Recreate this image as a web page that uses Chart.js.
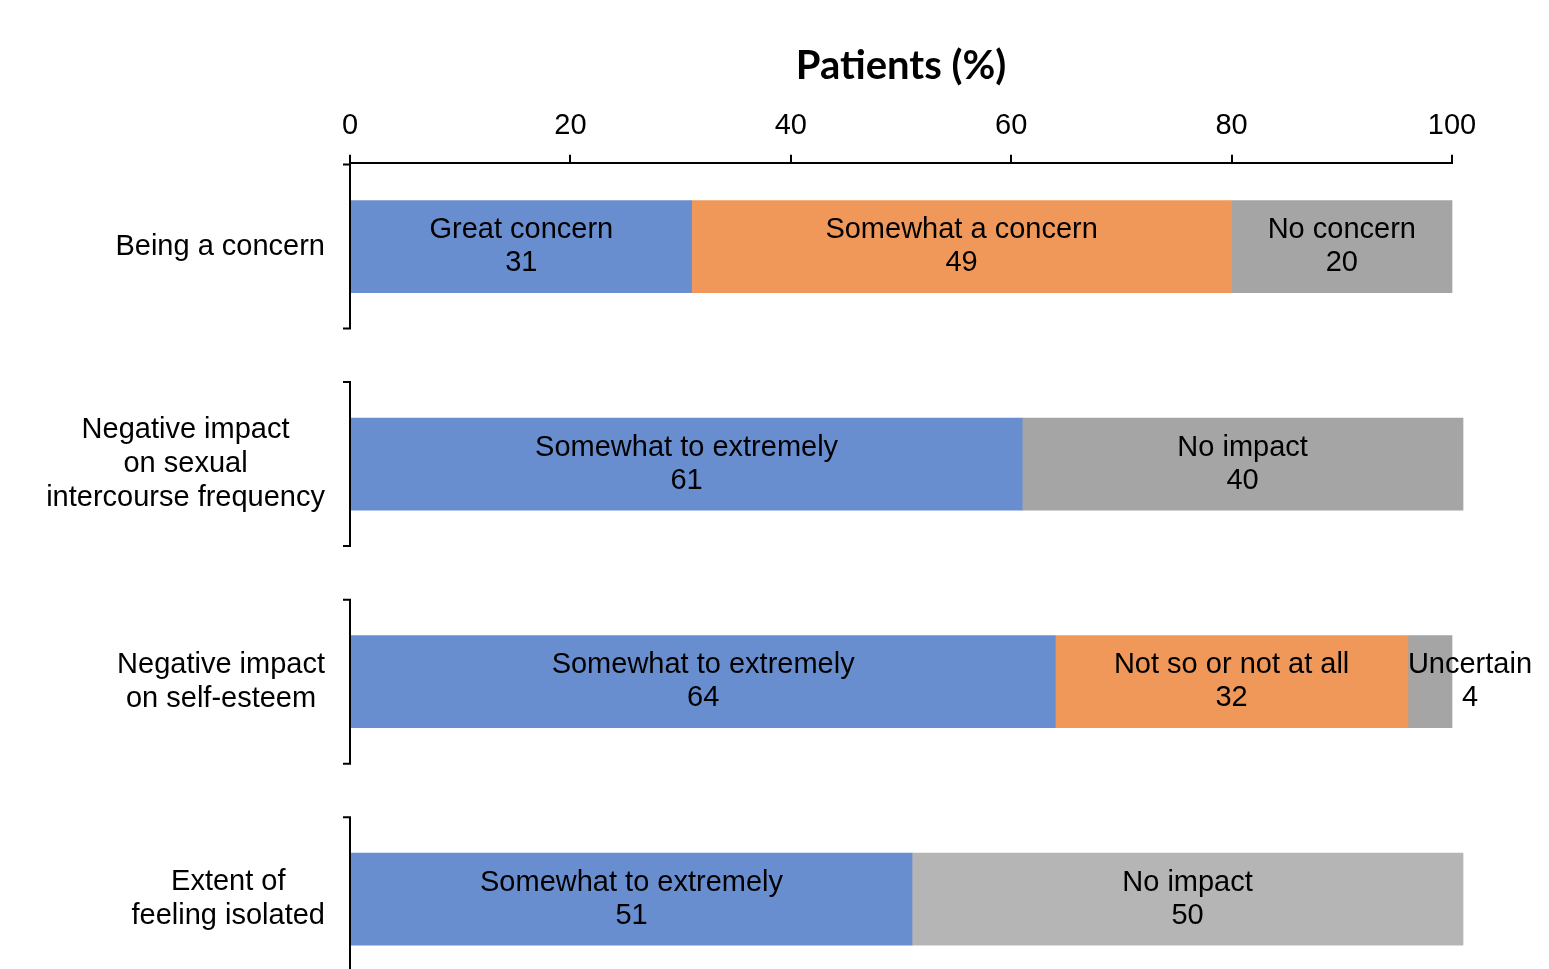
<!DOCTYPE html>
<html>
<head>
<meta charset="utf-8">
<script src="https://cdn.jsdelivr.net/npm/chart.js@4/dist/chart.umd.min.js"></script>
<style>
  html, body { margin: 0; padding: 0; background: #ffffff; }
  #c { display: block; }
</style>
</head>
<body>
<canvas id="c" width="1549" height="969"></canvas>
<script>
// Survey questions (rows, top to bottom)
const categories = [
  ['Being a concern'],
  ['Negative impact', 'on sexual', 'intercourse frequency'],
  ['Negative impact', 'on self-esteem'],
  ['Extent of', 'feeling isolated']
];

// Response segments per row (percent of patients)
const firstNames  = ['Great concern', 'Somewhat to extremely', 'Somewhat to extremely', 'Somewhat to extremely'];
const firstValues = [31, 61, 64, 51];

const secondNames  = ['Somewhat a concern', null, 'Not so or not at all', null];
const secondValues = [49, null, 32, null];

const thirdNames  = ['No concern', 'No impact', 'Uncertain', 'No impact'];
const thirdValues = [20, 40, 4, 50];

const xTicks = [0, 20, 40, 60, 80, 100];
const axisTitle = 'Patients (%)';

const BLUE = '#698ED0';
const ORANGE = '#F0975A';
const GREY = '#A5A5A5';
const LIGHT_GREY = '#B5B5B5';

const FONT = "'Liberation Sans', Arial, sans-serif";
const TEXT_SIZE = 29;

function toPoints(values) {
  return values.map((v, i) => ({ x: v, y: i }));
}

// Centred two-line label (segment name + value) inside each bar segment
const segmentLabels = {
  id: 'segmentLabels',
  afterDatasetsDraw(chart) {
    const ctx = chart.ctx;
    ctx.save();
    ctx.font = TEXT_SIZE + 'px ' + FONT;
    ctx.fillStyle = '#000';
    ctx.textBaseline = 'middle';
    ctx.textAlign = 'center';
    chart.data.datasets.forEach((ds, di) => {
      const meta = chart.getDatasetMeta(di);
      meta.data.forEach((bar, i) => {
        const v = ds.data[i].x;
        if (v === null || v === undefined) return;
        const name = ds.names[i];
        const left = Math.min(bar.base, bar.x);
        const right = Math.max(bar.base, bar.x);
        const w1 = ctx.measureText(name).width;
        const w2 = ctx.measureText(String(v)).width;
        const widest = Math.max(w1, w2);
        let cx = (left + right) / 2;
        // text wider than a narrow segment starts at the segment's left edge
        if (widest > right - left) cx = left + widest / 2;
        ctx.fillText(name, cx, bar.y - 16.5);
        ctx.fillText(String(v), cx, bar.y + 16.5);
      });
    });
    ctx.restore();
  }
};

// Bracketed row axis with the row names to its left
const rowAxis = {
  id: 'rowAxis',
  afterDraw(chart) {
    const ctx = chart.ctx;
    const area = chart.chartArea;
    const yScale = chart.scales.y;
    const x0 = area.left;
    ctx.save();
    ctx.strokeStyle = '#000';
    ctx.lineWidth = 2;
    ctx.font = TEXT_SIZE + 'px ' + FONT;
    ctx.fillStyle = '#000';
    ctx.textAlign = 'center';
    ctx.textBaseline = 'middle';
    categories.forEach((lines, i) => {
      const yc = yScale.getPixelForValue(i);
      const half = 82;
      ctx.beginPath();
      ctx.moveTo(x0 - 7, yc - half);
      ctx.lineTo(x0, yc - half);
      ctx.lineTo(x0, yc + half);
      ctx.lineTo(x0 - 7, yc + half);
      ctx.stroke();

      const lh = 34;
      const widest = Math.max(...lines.map(l => ctx.measureText(l).width));
      const cx = x0 - 25 - widest / 2;
      const y0 = yc - (lines.length - 1) * lh / 2;
      lines.forEach((l, k) => ctx.fillText(l, cx, y0 + k * lh));
    });
    ctx.restore();
  }
};

new Chart(document.getElementById('c'), {
  type: 'bar',
  data: {
    datasets: [
      { names: firstNames, data: toPoints(firstValues), backgroundColor: BLUE },
      { names: secondNames, data: toPoints(secondValues), backgroundColor: ORANGE },
      { names: thirdNames, data: toPoints(thirdValues),
        backgroundColor: thirdValues.map((v, i) => i === thirdValues.length - 1 ? LIGHT_GREY : GREY) }
    ]
  },
  options: {
    indexAxis: 'y',
    responsive: false,
    animation: false,
    devicePixelRatio: 1,
    layout: { padding: { left: 350, right: 97, top: 42, bottom: 0 } },
    datasets: { bar: { barThickness: 92, borderWidth: 0, clip: false } },
    plugins: {
      legend: { display: false },
      tooltip: { enabled: false }
    },
    scales: {
      x: {
        position: 'top',
        stacked: true,
        min: 0,
        max: 100,
        afterBuildTicks: s => { s.ticks = xTicks.map(v => ({ value: v })); },
        ticks: { color: '#000', font: { family: FONT, size: TEXT_SIZE }, padding: 11 },
        grid: { drawOnChartArea: false, drawTicks: true, tickLength: 8, color: '#000', lineWidth: 2 },
        border: { display: true, color: '#000', width: 2 },
        title: {
          display: true,
          text: axisTitle,
          color: '#000',
          font: { family: "Lato, 'Open Sans', sans-serif", size: 40, weight: 'bold' },
          padding: { top: 0, bottom: 8 }
        }
      },
      y: {
        type: 'linear',
        display: false,
        stacked: true,
        reverse: true,
        offset: false,
        grace: 0,
        bounds: 'data',
        min: -0.385,
        max: 3.321
      }
    }
  },
  plugins: [segmentLabels, rowAxis]
});
</script>
</body>
</html>
